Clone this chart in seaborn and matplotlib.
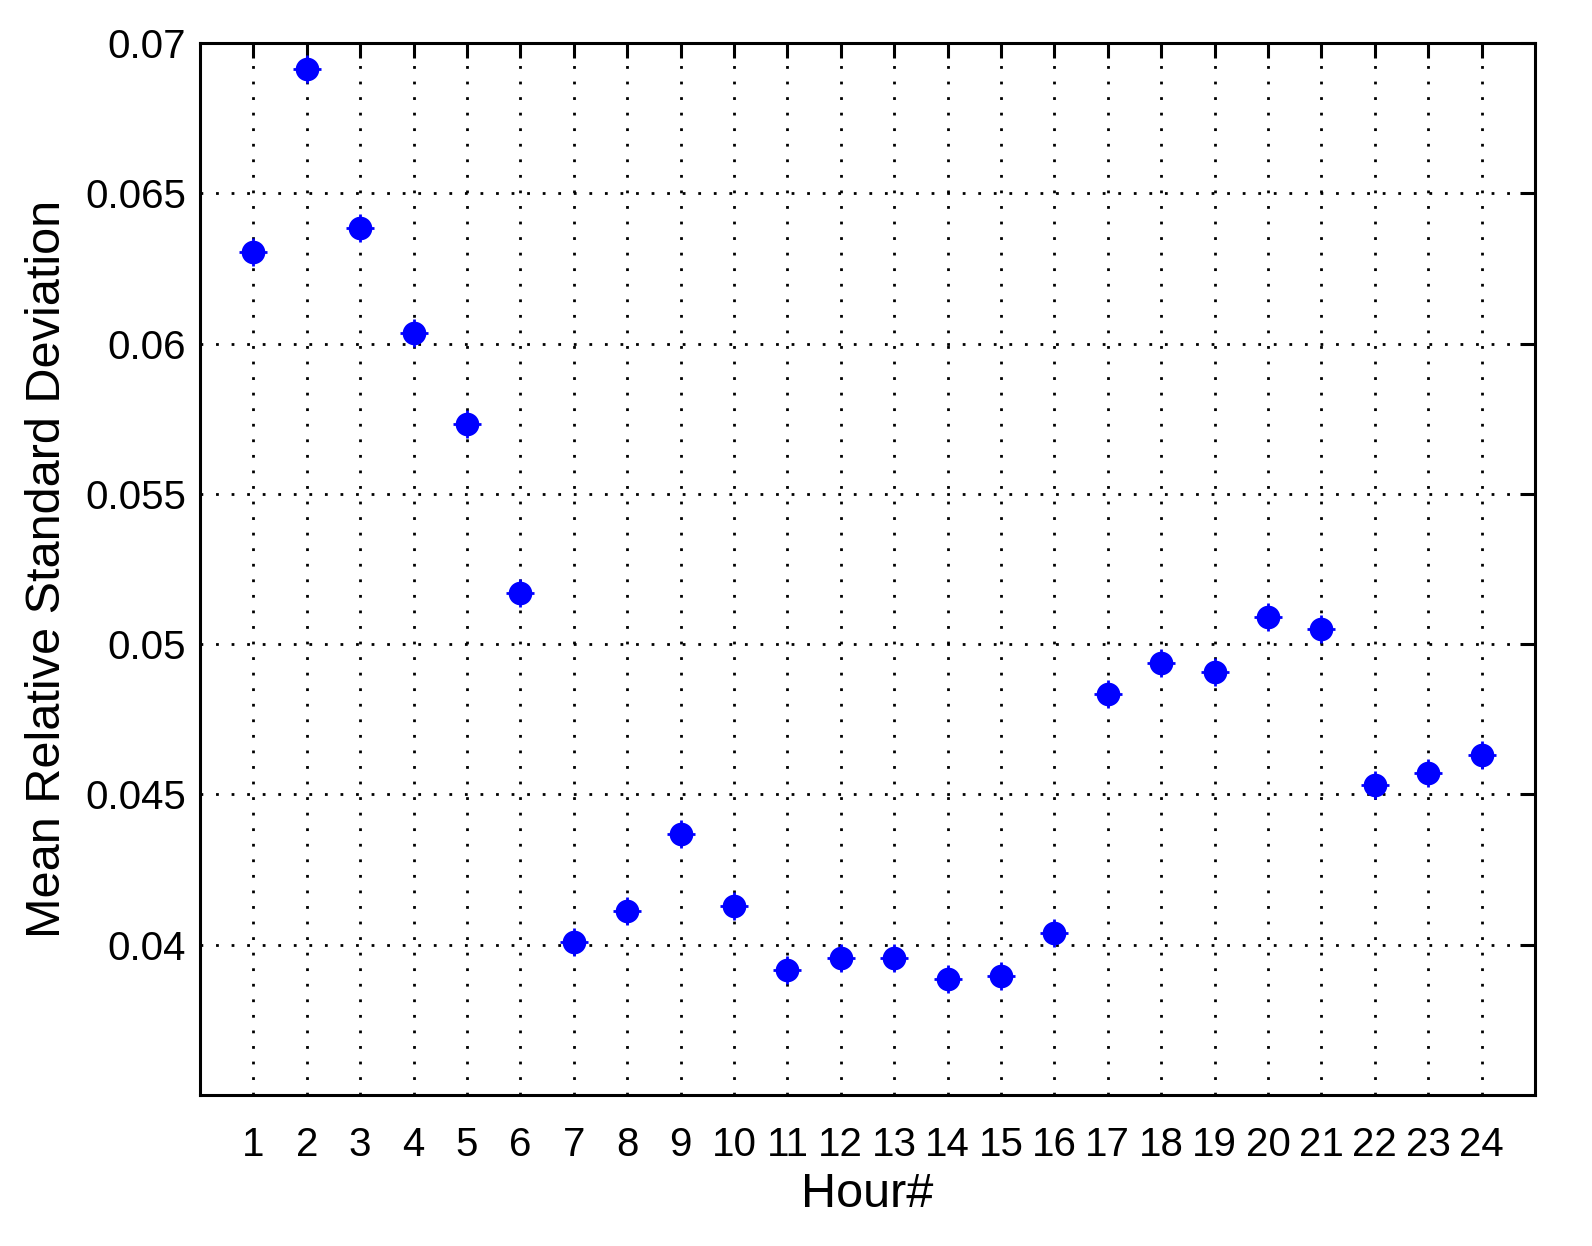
import matplotlib
matplotlib.use('Agg')
import matplotlib.pyplot as plt
import pandas as pd
import seaborn as sns

hours = list(range(1, 25))
mean_rsd = [0.06305, 0.06914, 0.06384, 0.06036, 0.05732, 0.05169, 0.04010, 0.04113,
            0.04368, 0.04129, 0.03917, 0.03957, 0.03957, 0.03887, 0.03897, 0.04040,
            0.04834, 0.04937, 0.04907, 0.05089, 0.05050, 0.04530, 0.04570, 0.04632]
y_ticks = [0.04, 0.045, 0.05, 0.055, 0.06, 0.065, 0.07]
y_tick_labels = ['0.04', '0.045', '0.05', '0.055', '0.06', '0.065', '0.07']

df = pd.DataFrame({'Hour': hours, 'MRSD': mean_rsd})

sns.set_style('white')
plt.rcParams['font.family'] = ['Liberation Sans', 'DejaVu Sans']

fig = plt.figure(figsize=(15.92, 12.46), dpi=100)
ax = fig.add_axes([0.1256, 0.1212, 0.8386, 0.8443])

# filled circles with small "+" crosses, like matlab errorbar markers
sns.scatterplot(data=df, x='Hour', y='MRSD', ax=ax, color='#0000ff', s=290,
                marker='o', edgecolor='#0000ff', linewidth=0, zorder=3)
ax.scatter(df['Hour'], df['MRSD'], marker='+', s=400, color='#0000ff', linewidths=2, zorder=3)

ax.set_xlim(0, 25)
ax.set_ylim(0.035, 0.07)
ax.set_xticks(hours)
ax.set_xticklabels([str(h) for h in hours])
ax.set_yticks(y_ticks)
ax.set_yticklabels(y_tick_labels)

ax.grid(True, color='black', linestyle=(0, (1, 4.6)), linewidth=2)
ax.set_axisbelow(True)
for sp in ax.spines.values():
    sp.set_color('black')
    sp.set_linewidth(2.2)

ax.tick_params(direction='in', length=11, width=2.2, top=True, right=True,
               labelsize=29, colors='black')
ax.tick_params(axis='y', pad=10)
ax.tick_params(axis='x', pad=22)
ax.set_xlabel('Hour#', fontsize=35, labelpad=6, color='black')
ax.set_ylabel('Mean Relative Standard Deviation', fontsize=35, labelpad=11, color='black')

fig.savefig('out.png', dpi=100, facecolor='white')
plt.close(fig)
